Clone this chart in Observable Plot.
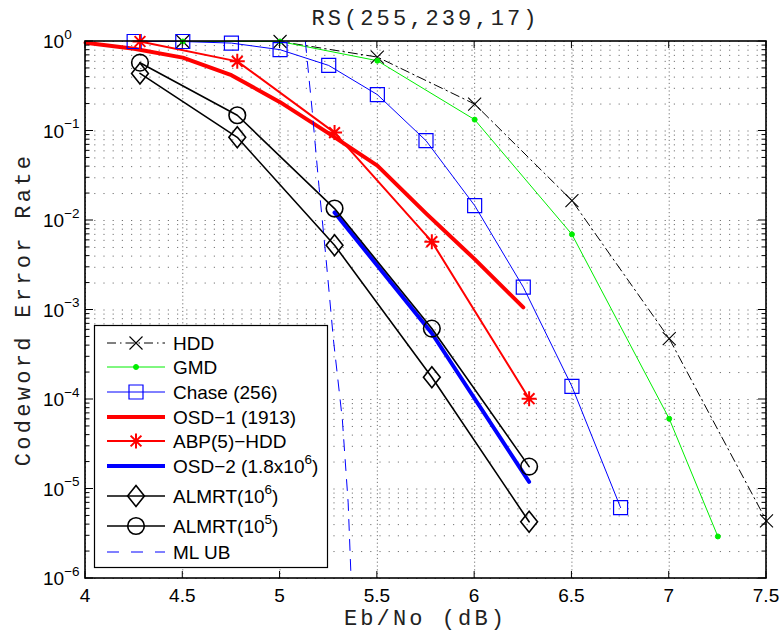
<!DOCTYPE html>
<html><head><meta charset="utf-8">
<script src="https://cdn.jsdelivr.net/npm/d3@7"></script>
<script src="https://cdn.jsdelivr.net/npm/@observablehq/plot@0.6"></script>
<style>
body{margin:0;background:#fff}
#chart{position:relative;width:781px;height:634px;overflow:hidden}
</style>
</head><body><div id="chart"></div>
<script>
// ---- data ----
const hddX = [4.5, 5, 5.5, 6, 6.5, 7, 7.5];
const hddY = [1, 1, 0.67, 0.2, 0.0167, 4.8e-4, 4.4e-6];
const gmdX = [4.5, 5, 5.5, 6, 6.5, 7, 7.25];
const gmdY = [1, 1, 0.61, 0.134, 0.007, 6.1e-5, 2.95e-6];
const chaseX = [4.25, 4.5, 4.75, 5, 5.25, 5.5, 5.75, 6, 6.25, 6.5, 6.75];
const chaseY = [1, 1, 0.96, 0.81, 0.54, 0.255, 0.078, 0.0147, 1.8e-3, 1.4e-4, 6.2e-6];
const osd1X = [4, 4.25, 4.5, 4.75, 5, 5.25, 5.5, 5.75, 6, 6.25];
const osd1Y = [0.97, 0.83, 0.66, 0.42, 0.21, 0.094, 0.041, 0.012, 0.0037, 1.07e-3];
const abpX = [4.28, 4.78, 5.28, 5.78, 6.28];
const abpY = [1, 0.6, 0.096, 5.8e-3, 1.02e-4];
const osd2X = [5.28, 5.78, 6.28];
const osd2Y = [0.0123, 5.5e-4, 1.2e-5];
const almrt6X = [4.28, 4.78, 5.28, 5.78, 6.28];
const almrt6Y = [0.44, 0.085, 5.3e-3, 1.77e-4, 4.3e-6];
const almrt5X = [4.28, 4.78, 5.28, 5.78, 6.28];
const almrt5Y = [0.58, 0.15, 0.0136, 6.2e-4, 1.78e-5];
const mlubX = [5.13, 5.165, 5.2, 5.235, 5.275, 5.32, 5.35, 5.365];
const mlubY = [1, 0.17, 0.024, 4e-3, 4.5e-4, 6e-5, 7e-6, 1e-6];

const xTickValues = [4, 4.5, 5, 5.5, 6, 6.5, 7, 7.5];
const xTickLabels = ["4", "4.5", "5", "5.5", "6", "6.5", "7", "7.5"];
const yExponents = [0, -1, -2, -3, -4, -5, -6];
const titleText = "RS(255,239,17)";
const xLabelText = "Eb/No (dB)";
const yLabelText = "Codeword Error Rate";

// ---- symbols ----
const rad = s => Math.sqrt(s / Math.PI);
const symSquare = {draw(c, s){const r = rad(s); c.moveTo(-r,-r); c.lineTo(r,-r); c.lineTo(r,r); c.lineTo(-r,r); c.closePath();}};
const symX = {draw(c, s){const r = rad(s); c.moveTo(-r,-r); c.lineTo(r,r); c.moveTo(-r,r); c.lineTo(r,-r);}};
const symStar = {draw(c, s){const r = rad(s), d = r*0.72; c.moveTo(-r,0); c.lineTo(r,0); c.moveTo(0,-r); c.lineTo(0,r); c.moveTo(-d,-d); c.lineTo(d,d); c.moveTo(-d,d); c.lineTo(d,-d);}};
const symDiamond = {draw(c, s){const r = rad(s), w = r*0.8; c.moveTo(0,-r); c.lineTo(w,0); c.lineTo(0,r); c.lineTo(-w,0); c.closePath();}};
const symCircle = {draw(c, s){const r = rad(s); c.moveTo(r,0); c.arc(0,0,r,0,2*Math.PI); c.closePath();}};

const series = [
  {name:"HDD", x:hddX, y:hddY, stroke:"#000", sw:1, dash:"9,4,1.5,4", sym:symX, r:6.5, msw:1.1, fill:"none"},
  {name:"GMD", x:gmdX, y:gmdY, stroke:"#00ee00", sw:1, dash:null, sym:symCircle, r:2.5, msw:1, fill:"#00ee00"},
  {name:"Chase (256)", x:chaseX, y:chaseY, stroke:"#0000ff", sw:1, dash:null, sym:symSquare, r:7, msw:1.2, fill:"none"},
  {name:"OSD\u22121 (1913)", x:osd1X, y:osd1Y, stroke:"#ff0000", sw:4, dash:null, sym:null},
  {name:"ABP(5)\u2212HDD", x:abpX, y:abpY, stroke:"#ff0000", sw:2, dash:null, sym:symStar, r:7.5, msw:2, fill:"none"},
  {name:"OSD\u22122 (1.8x10", sup:"6", post:")", x:osd2X, y:osd2Y, stroke:"#0000ff", sw:4, dash:null, sym:null},
  {name:"ALMRT(10", sup:"6", post:")", x:almrt6X, y:almrt6Y, stroke:"#000", sw:1.6, dash:null, sym:symDiamond, r:10.5, msw:1.6, fill:"none"},
  {name:"ALMRT(10", sup:"5", post:")", x:almrt5X, y:almrt5Y, stroke:"#000", sw:1.6, dash:null, sym:symCircle, r:8.3, msw:1.6, fill:"none"},
  {name:"ML UB", x:mlubX, y:mlubY, stroke:"#0000ff", sw:1, dash:"11,9", sym:null}
];

const yGrid = [];
for (let e = -6; e < 0; e++) for (let m = 1; m < 10; m++) yGrid.push(m * Math.pow(10, e));
yGrid.push(1);

const marks = [
  Plot.ruleY(yGrid, {stroke:"#000", strokeOpacity:0.55, strokeDasharray:"1.2,8"}),
  Plot.ruleX(xTickValues, {stroke:"#000", strokeOpacity:0.55, strokeDasharray:"1.2,2.6"})
];
for (const s of series) {
  const data = s.x.map((x, i) => ({x, y: s.y[i]}));
  marks.push(Plot.line(data, {x:"x", y:"y", stroke:s.stroke, strokeWidth:s.sw, strokeDasharray:s.dash || undefined, curve:"linear"}));
}
for (const s of series) {
  if (!s.sym) continue;
  const data = s.x.map((x, i) => ({x, y: s.y[i]}));
  marks.push(Plot.dot(data, {x:"x", y:"y", symbol:s.sym, r:s.r, stroke:s.stroke, strokeWidth:s.msw, fill:s.fill}));
}

const plot = Plot.plot({
  width:781, height:634,
  marginLeft:85, marginRight:15, marginTop:41, marginBottom:56,
  x:{domain:[4, 7.5], axis:null},
  y:{type:"log", domain:[1e-6, 1], axis:null},
  style:{background:"white", overflow:"visible"},
  marks
});
document.getElementById("chart").appendChild(plot);

// ---- frame, ticks, labels using Plot's scales ----
const sans = "'Liberation Sans',Arial,sans-serif";
const mono = "'Liberation Mono','DejaVu Sans Mono',monospace";
const FS = 19, SUP = 13.5;
const sx = plot.scale("x"), sy = plot.scale("y");
const svg = d3.select(plot);
const X0 = sx.apply(4), X1 = sx.apply(7.5), Y0 = sy.apply(1), Y1 = sy.apply(1e-6);
const g = svg.append("g").attr("font-family", sans).attr("text-anchor", "start");
g.append("rect").attr("x", X0).attr("y", Y0).attr("width", X1 - X0).attr("height", Y1 - Y0)
  .attr("fill", "none").attr("stroke", "#000").attr("stroke-width", 1.6);
// y ticks
for (const v of yGrid) {
  const y = sy.apply(v);
  const major = Math.abs(Math.log10(v) - Math.round(Math.log10(v))) < 1e-9;
  const L = major ? 8 : 4.5;
  g.append("line").attr("x1", X0).attr("x2", X0 + L).attr("y1", y).attr("y2", y).attr("stroke", "#000").attr("stroke-width", 1);
  g.append("line").attr("x1", X1).attr("x2", X1 - L).attr("y1", y).attr("y2", y).attr("stroke", "#000").attr("stroke-width", 1);
}
// x ticks
xTickValues.forEach((v, i) => {
  const x = sx.apply(v);
  g.append("line").attr("x1", x).attr("x2", x).attr("y1", Y1).attr("y2", Y1 - 7).attr("stroke", "#000");
  g.append("line").attr("x1", x).attr("x2", x).attr("y1", Y0).attr("y2", Y0 + 7).attr("stroke", "#000");
  g.append("text").attr("x", x).attr("y", Y1 + 24).attr("text-anchor", "middle")
    .attr("font-size", FS).attr("fill", "#000").text(xTickLabels[i]);
});
// y tick labels with superscripts
for (const e of yExponents) {
  const y = sy.apply(Math.pow(10, e));
  const t = g.append("text").attr("x", 43).attr("y", y + 7).attr("text-anchor", "start").attr("font-size", FS).attr("fill", "#000");
  t.append("tspan").text("10");
  t.append("tspan").attr("dy", -9.5).attr("font-size", SUP).text(e === 0 ? "0" : "\u2212" + Math.abs(e));
}
// title and axis labels
g.append("text").attr("x", (X0 + X1) / 2).attr("y", 25).attr("text-anchor", "middle")
  .attr("font-family", mono).attr("font-size", 22).attr("letter-spacing", 3.1).attr("fill", "#222").text(titleText);
g.append("text").attr("x", (X0 + X1) / 2).attr("y", Y1 + 47).attr("text-anchor", "middle")
  .attr("font-family", mono).attr("font-size", 22).attr("letter-spacing", 3.1).attr("fill", "#222").text(xLabelText);
g.append("text").attr("transform", `translate(30,${(Y0 + Y1) / 2}) rotate(-90)`).attr("text-anchor", "middle")
  .attr("font-family", mono).attr("font-size", 22).attr("letter-spacing", 3.3).attr("fill", "#222").text(yLabelText);

// ---- legend ----
const legRows = [343, 367, 392, 417, 441, 466, 496, 526, 552];
const lg = svg.append("g").attr("font-family", sans).attr("text-anchor", "start");
lg.append("rect").attr("x", 94.5).attr("y", 325.5).attr("width", 233).attr("height", 242)
  .attr("fill", "#fff").attr("stroke", "#000").attr("stroke-width", 1.2);
series.forEach((s, i) => {
  const y = legRows[i];
  const ln = lg.append("line").attr("x1", 107).attr("x2", 165).attr("y1", y).attr("y2", y)
    .attr("stroke", s.stroke).attr("stroke-width", s.sw);
  if (s.dash) ln.attr("stroke-dasharray", s.name === "ML UB" ? "12,12" : s.dash);
  if (s.sym) {
    const p = d3.path();
    s.sym.draw(p, Math.PI * s.r * s.r);
    lg.append("path").attr("d", p.toString()).attr("transform", `translate(136,${y})`)
      .attr("fill", s.fill).attr("stroke", s.stroke).attr("stroke-width", s.msw);
  }
  const t = lg.append("text").attr("x", 173).attr("y", y + 7).attr("text-anchor", "start").attr("font-size", FS).attr("fill", "#000");
  t.append("tspan").text(s.name);
  if (s.sup) {
    t.append("tspan").attr("dy", -9.5).attr("font-size", SUP).text(s.sup);
    t.append("tspan").attr("dy", 9.5).text(s.post);
  }
});
</script>
</body></html>
